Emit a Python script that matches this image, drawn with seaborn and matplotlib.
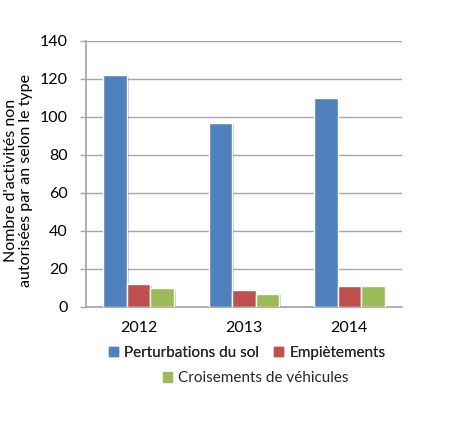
import matplotlib
matplotlib.use("Agg")
import matplotlib.pyplot as plt
import matplotlib.patches as mpatches
import matplotlib.patheffects as pe
import pandas as pd
import seaborn as sns

# data
annees = ["2012", "2013", "2014"]
types = ["Perturbations du sol", "Empiètements", "Croisements de véhicules"]
perturbations = [122, 97, 110]
empietements = [12, 9, 11]
croisements = [10, 7, 11]
couleurs = ["#4F81BD", "#C0504D", "#9BBB59"]
y_ticks = [0, 20, 40, 60, 80, 100, 120, 140]

df = pd.DataFrame({
    "annee": annees * 3,
    "type": [types[0]] * 3 + [types[1]] * 3 + [types[2]] * 3,
    "valeur": perturbations + empietements + croisements,
})

sns.set_theme(style="white")
plt.rcParams["font.family"] = ["Lato", "DejaVu Sans"]

fig = plt.figure(figsize=(4.6, 4.21), dpi=100)
ax = fig.add_axes([0.187, 0.271, 0.687, 0.632])

sns.barplot(data=df, x="annee", y="valeur", hue="type", palette=couleurs,
            width=0.67, saturation=1, legend=False, ax=ax, zorder=3)

for bar in ax.patches:
    bar.set_path_effects([pe.SimplePatchShadow(offset=(1.2, -1.2), alpha=0.25),
                          pe.Normal()])

ax.set_ylim(0, 140)
ax.set_yticks(y_ticks)
ax.yaxis.grid(True, color="#A6A6A6", linewidth=1, zorder=0)
ax.set_axisbelow(True)
for s in ["top", "right"]:
    ax.spines[s].set_visible(False)
ax.spines["left"].set_color("#A6A6A6")
ax.spines["bottom"].set_color("#A6A6A6")
ax.tick_params(axis="y", which="both", left=True, length=4, width=1,
               color="#A6A6A6", labelsize=11.5, pad=9, labelcolor="black")
ax.tick_params(axis="x", bottom=False, labelsize=11.5, pad=4, labelcolor="black")
ax.set_xlabel("")
ax.set_ylabel("Nombre d'activités non\nautorisées par an selon le type",
              fontsize=11.5, color="black", linespacing=1.05)
ax.yaxis.set_label_coords(-0.168, 0.475)

poignees = [mpatches.Patch(color=c, label=t) for c, t in zip(couleurs, types)]
leg1 = fig.legend(handles=poignees[:2], loc="center", bbox_to_anchor=(0.537, 0.162),
                  ncol=2, frameon=False, fontsize=11, handlelength=0.6,
                  handleheight=0.6, handletextpad=0.4, columnspacing=1.0)
fig.add_artist(leg1)
fig.legend(handles=poignees[2:], loc="center", bbox_to_anchor=(0.556, 0.102),
           frameon=False, fontsize=11, handlelength=0.6, handleheight=0.6,
           handletextpad=0.4)

fig.savefig("out.png", dpi=100)
